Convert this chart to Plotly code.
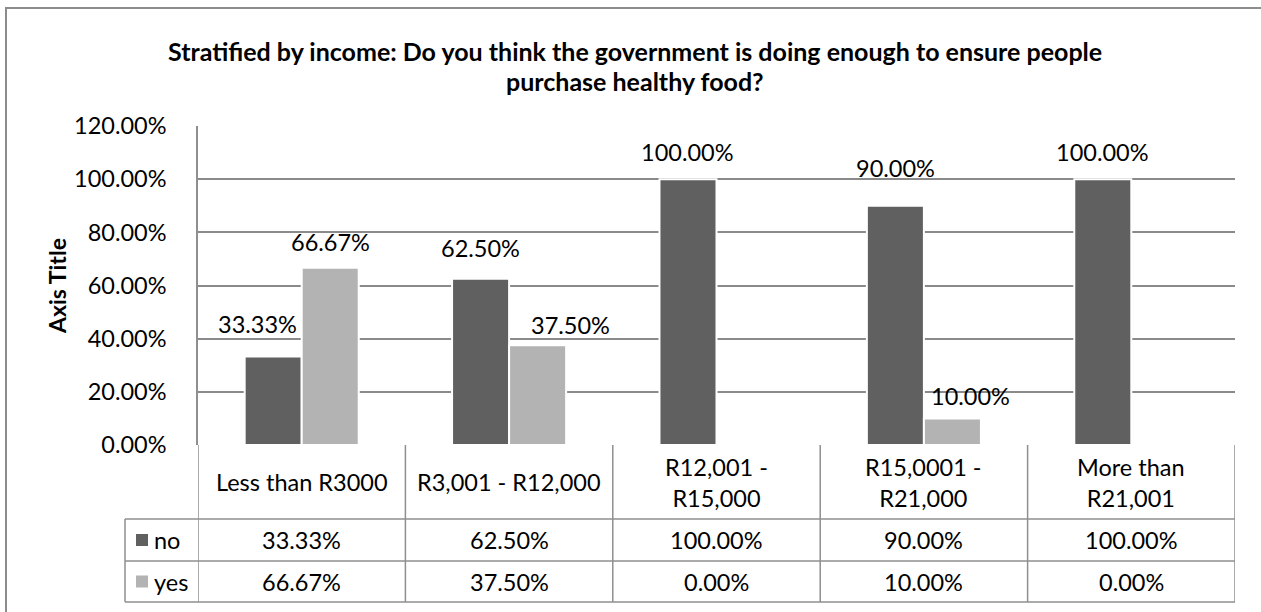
import plotly.graph_objects as go

# ---- data ----
categories = ["Less than R3000", "R3,001 - R12,000", "R12,001 -<br>R15,000",
              "R15,0001 -<br>R21,000", "More than<br>R21,001"]
series_names = ["no", "yes"]
no_values = [0.3333, 0.625, 1.0, 0.90, 1.0]
yes_values = [0.6667, 0.375, 0.0, 0.10, 0.0]
y_ticks = [0, 0.2, 0.4, 0.6, 0.8, 1.0, 1.2]

title_lines = ["Stratified by income: Do you think the government is doing enough to ensure people",
               "purchase healthy food?"]

# ---- styling ----
W, H = 1261, 612
L, R, T, B = 198, 1235, 126, 445          # plot area in pixels
FONT = "Lato"
FS = 23.5
colors = {"no": "#606060", "yes": "#b3b3b3"}
grid_col = "#8a8a8a"
line_col = "#8f8f8f"
title_line_y = [51, 81]

# pixel nudges for data labels (dx, dy above bar top)
label_nudge = {
    "no": [(-16, 32), (0, 31), (0, 27), (0, 38), (0, 27)],
    "yes": [(0, 26), (33, 20), (0, 0), (18, 22), (0, 0)],
}


def px_x(px):
    return (px - L) / (R - L)


def px_y(py):
    return (B - py) / (B - T)


fig = go.Figure()
for name, vals in zip(series_names, [no_values, yes_values]):
    fig.add_trace(go.Bar(
        x=list(range(len(categories))), y=vals, name=name,
        marker=dict(color=colors[name], line=dict(color="white", width=2)),
        showlegend=False, hoverinfo="skip",
    ))

annotations = []
shapes = []

# data labels above the bars
bar_w = (1 - 0.45) / 2
for si, (name, vals) in enumerate(zip(series_names, [no_values, yes_values])):
    offset = (si - 0.5) * bar_w
    for i, v in enumerate(vals):
        if v <= 0:
            continue
        dx, dy = label_nudge[name][i]
        annotations.append(dict(
            x=i + offset, y=v, xref="x", yref="y", text=f"{v * 100:.2f}%",
            showarrow=False, xanchor="center", yanchor="middle",
            xshift=dx, yshift=dy, font=dict(family=FONT, size=FS, color="black")))

# chart title, one annotation per line
for line, ly in zip(title_lines, title_line_y):
    annotations.append(dict(
        x=px_x(W / 2 + 4), y=px_y(ly), xref="paper", yref="paper",
        text=line, showarrow=False, xanchor="center", yanchor="middle",
        font=dict(family=FONT, size=25, color="black", weight="bold")))

# y axis title
annotations.append(dict(
    x=px_x(57), y=px_y(286), xref="paper", yref="paper", text="<b>Axis Title</b>",
    textangle=-90, showarrow=False, xanchor="center", yanchor="middle",
    font=dict(family=FONT, size=23, color="black")))

# ---- data table below the plot ----
row_head = (445, 519)
row_no = (519, 561)
row_yes = (561, 602)
legend_left = 125
n = len(categories)


def hline(py, x0px, x1px):
    shapes.append(dict(type="line", xref="paper", yref="paper",
                       x0=px_x(x0px), x1=px_x(x1px), y0=px_y(py), y1=px_y(py),
                       line=dict(color=line_col, width=1.5)))


def vline(xd, y0px, y1px):
    shapes.append(dict(type="line", xref="x", yref="paper",
                       x0=xd, x1=xd, y0=px_y(y0px), y1=px_y(y1px),
                       line=dict(color=line_col, width=1.5)))


for k in range(n + 1):
    vline(k - 0.5, row_head[0], row_yes[1])
shapes.append(dict(type="line", xref="paper", yref="paper",
                   x0=px_x(legend_left), x1=px_x(legend_left),
                   y0=px_y(row_no[0]), y1=px_y(row_yes[1]),
                   line=dict(color=line_col, width=1.5)))
hline(row_no[0], legend_left, R)
hline(row_yes[0], legend_left, R)
hline(row_yes[1], legend_left, R)

for i, c in enumerate(categories):
    annotations.append(dict(x=i, y=px_y(sum(row_head) / 2), xref="x", yref="paper",
                            text=c, showarrow=False, xanchor="center", yanchor="middle",
                            font=dict(family=FONT, size=FS, color="black")))

for name, vals, row in [("no", no_values, row_no), ("yes", yes_values, row_yes)]:
    yc = sum(row) / 2
    for i, v in enumerate(vals):
        annotations.append(dict(x=i, y=px_y(yc), xref="x", yref="paper",
                                text=f"{v * 100:.2f}%", showarrow=False,
                                xanchor="center", yanchor="middle",
                                font=dict(family=FONT, size=FS, color="black")))
    shapes.append(dict(type="rect", xref="paper", yref="paper",
                       x0=px_x(136), x1=px_x(148), y0=px_y(yc - 6), y1=px_y(yc + 6),
                       fillcolor=colors[name], line=dict(width=0)))
    annotations.append(dict(x=px_x(152), y=px_y(yc), xref="paper", yref="paper",
                            text=name, showarrow=False, xanchor="left", yanchor="middle",
                            font=dict(family=FONT, size=FS, color="black")))

# outer chart border
shapes.append(dict(type="rect", xref="paper", yref="paper",
                   x0=px_x(6), x1=px_x(W + 20), y0=px_y(8), y1=px_y(H + 20),
                   line=dict(color="#8c8c8c", width=2), fillcolor="rgba(0,0,0,0)"))

fig.update_layout(
    width=W, height=H,
    margin=dict(l=L, r=W - R, t=T, b=H - B, pad=0),
    paper_bgcolor="white", plot_bgcolor="white",
    barmode="group", bargap=0.45, bargroupgap=0,
    annotations=annotations, shapes=shapes,
    xaxis=dict(range=[-0.5, n - 0.5], showticklabels=False, showgrid=False,
               zeroline=False, showline=False, fixedrange=True),
    yaxis=dict(range=[0, 1.2], tickvals=y_ticks, tickformat=".2%",
               showgrid=True, gridcolor=grid_col, gridwidth=1.5,
               zeroline=False, showline=True, linecolor=line_col, linewidth=1.5,
               ticks="", ticklabelstandoff=25,
               tickfont=dict(family=FONT, size=FS, color="black"), fixedrange=True),
)

fig.write_html("out.html")
